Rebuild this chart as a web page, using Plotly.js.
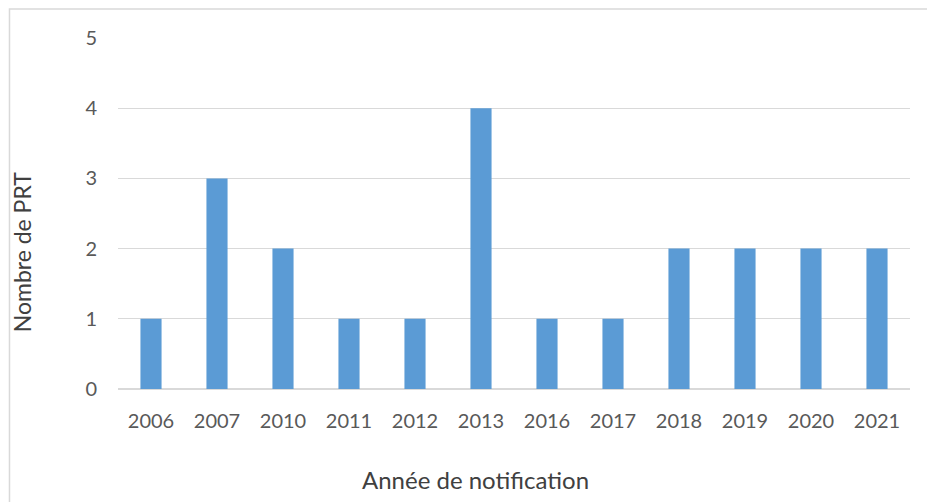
<!DOCTYPE html>
<html>
<head>
<meta charset="utf-8">
<script src="https://cdn.plot.ly/plotly-3.0.1.min.js"></script>
<style>html,body{margin:0;padding:0;background:#fff;}#chart{width:927px;height:502px;}</style>
</head>
<body>
<div id="chart"></div>
<script>
const years = ["2006","2007","2010","2011","2012","2013","2016","2017","2018","2019","2020","2021"];
const counts = [1,3,2,1,1,4,1,1,2,2,2,2];
const yTicks = [0,1,2,3,4,5];
const xTitle = "Année de notification";
const yTitle = "Nombre de PRT";

const font = "Lato, 'Open Sans', sans-serif";
const trace = {
  type: "bar",
  x: years,
  y: counts,
  marker: {color: "#5b9bd5"},
  hoverinfo: "x+y"
};
const layout = {
  width: 927, height: 502,
  margin: {l: 118, r: 17, t: 38, b: 113},
  paper_bgcolor: "#fff", plot_bgcolor: "#fff",
  bargap: 0.68,
  showlegend: false,
  font: {family: font, color: "#595959"},
  xaxis: {
    type: "category",
    showgrid: false, showline: false, zeroline: false,
    ticks: "", ticklabelstandoff: 18,
    tickfont: {size: 20, color: "#595959", family: font}
  },
  yaxis: {
    range: [0, 5], tickvals: yTicks,
    showgrid: true, gridcolor: "#d9d9d9", gridwidth: 1,
    zeroline: true, zerolinecolor: "#d9d9d9", zerolinewidth: 1.5,
    showline: false, ticks: "", ticklabelstandoff: 20,
    tickfont: {size: 20, color: "#595959", family: font},
    fixedrange: true
  },
  annotations: [
    {text: xTitle, xref: "paper", yref: "paper", x: 0.451, y: -0.259, xanchor: "center", yanchor: "middle",
     showarrow: false, font: {size: 24, color: "#404040", family: font}},
    {text: yTitle, xref: "paper", yref: "paper", x: -0.121, y: 0.39, xanchor: "center", yanchor: "middle",
     textangle: -90, showarrow: false, font: {size: 23, color: "#404040", family: font}}
  ],
  shapes: [
    {type: "rect", xref: "paper", yref: "paper", x0: -0.137, x1: 1.2, y0: -0.6, y1: 1.0826,
     line: {color: "#d9d9d9", width: 1.5}, fillcolor: "rgba(0,0,0,0)", layer: "below"}
  ]
};
Plotly.newPlot("chart", [trace], layout, {displayModeBar: false, staticPlot: true});
</script>
</body>
</html>
